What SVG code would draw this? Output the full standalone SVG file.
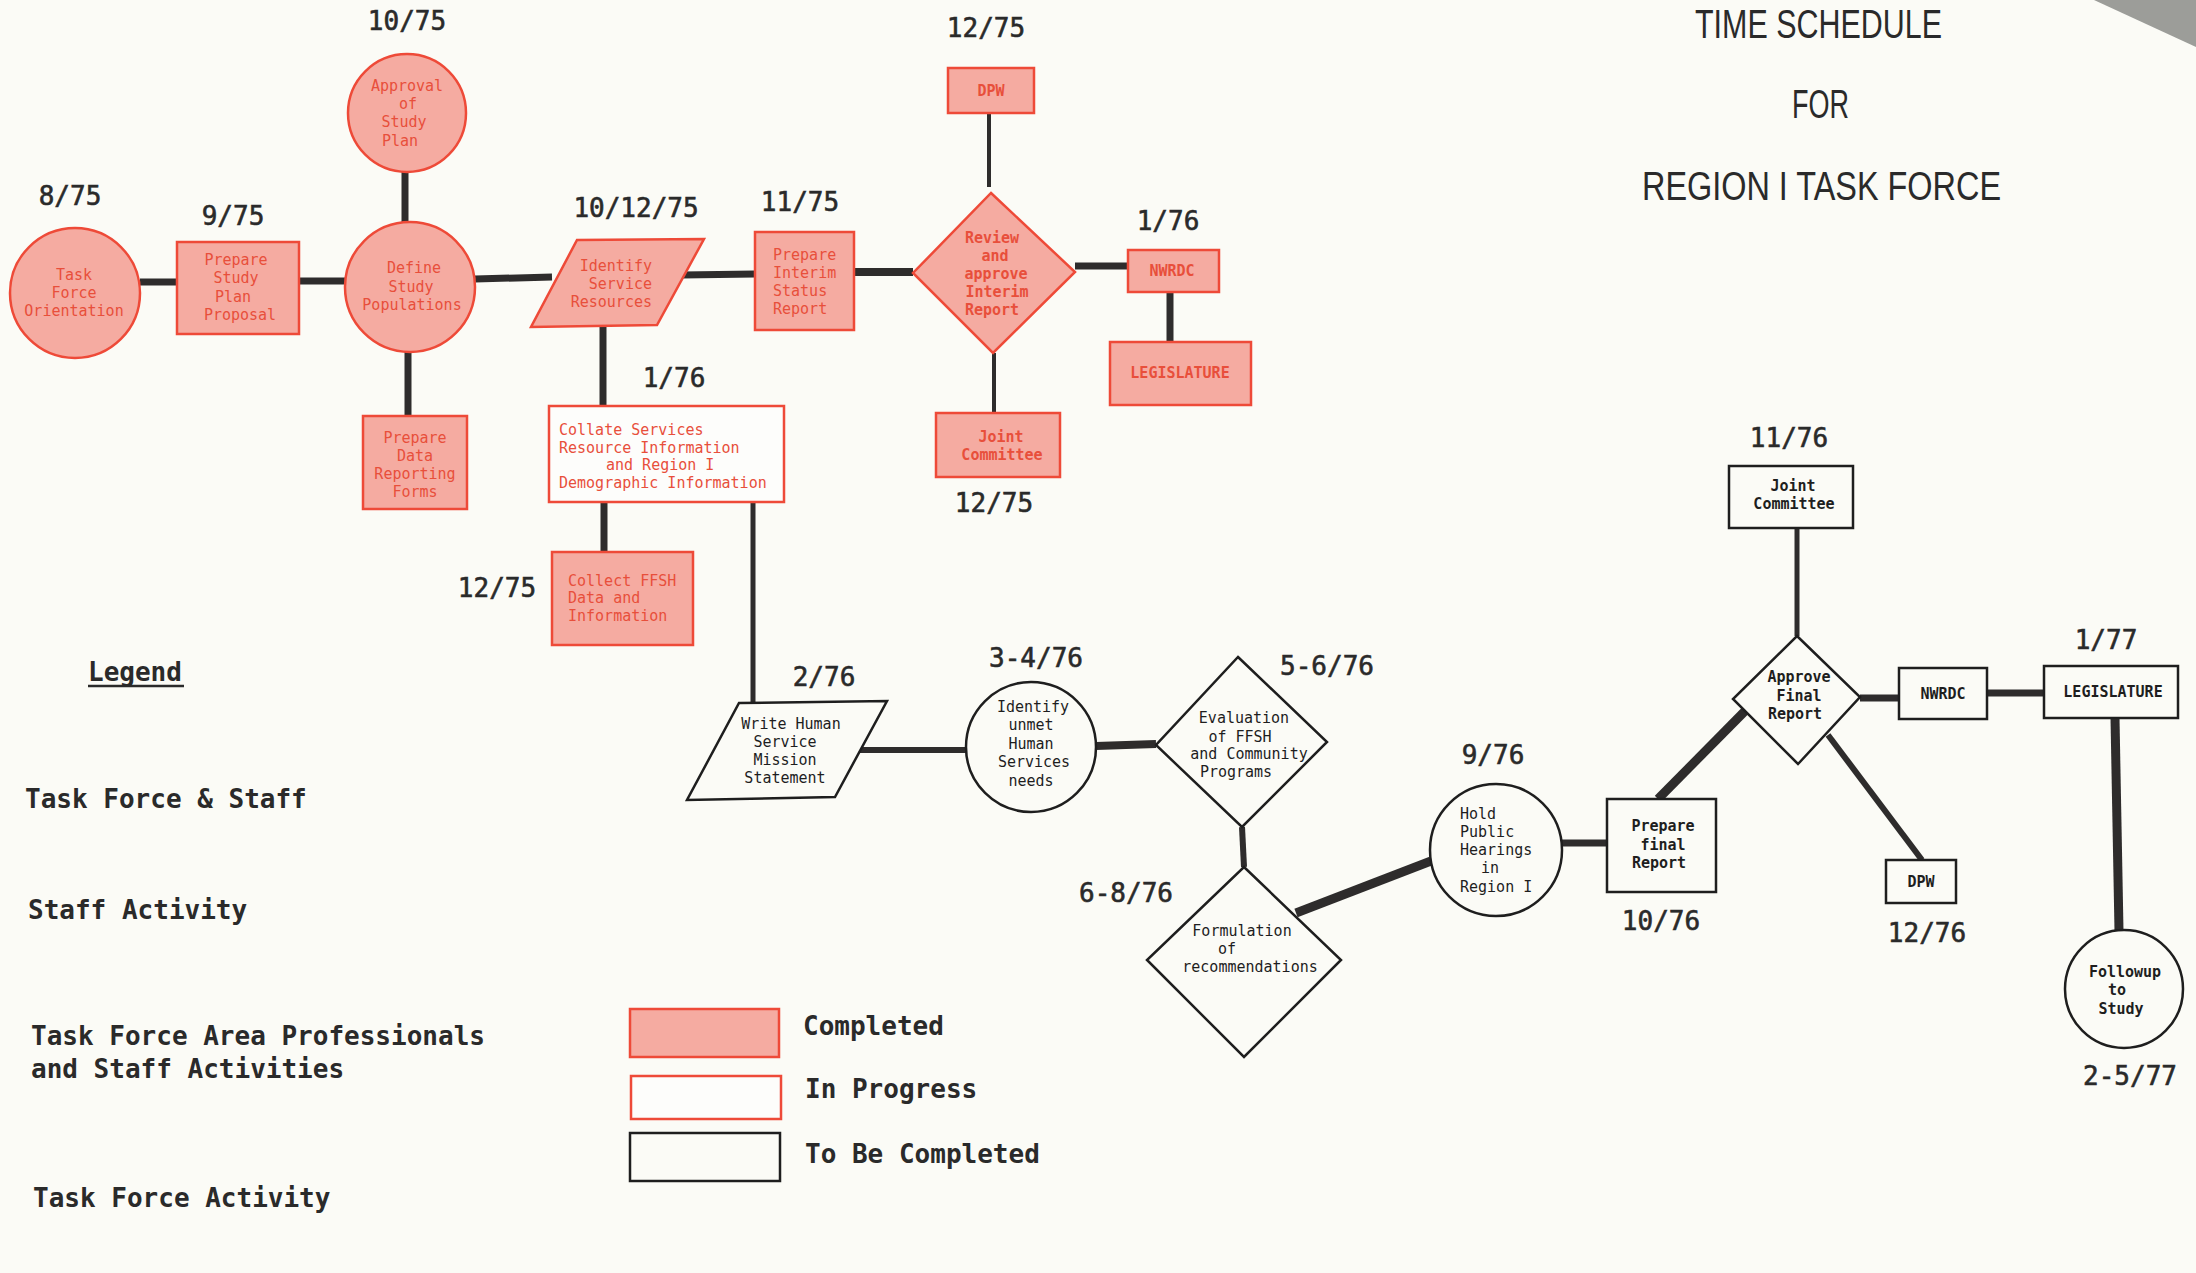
<svg xmlns="http://www.w3.org/2000/svg" width="2196" height="1273" viewBox="0 0 2196 1273">
<style>
.bg{fill:#fbfbf6}
.done{fill:#f5aba1;stroke:#ee4a38;stroke-width:2.5}
.prog{fill:#fdfdfb;stroke:#ee4a38;stroke-width:2.5}
.todo{fill:#fbfbf6;stroke:#1e1e1e;stroke-width:2.5}
.rt{font-family:"DejaVu Sans Mono","Liberation Mono",monospace;font-size:15px;fill:#e84f3b}
.bt{font-family:"DejaVu Sans Mono","Liberation Mono",monospace;font-size:15px;fill:#1e1e1e}
.b{font-weight:bold}
.date{font-family:"DejaVu Sans Mono","Liberation Mono",monospace;font-size:26px;fill:#2a2a2a;stroke:#2a2a2a;stroke-width:0.6;text-anchor:middle}
.leg{font-family:"DejaVu Sans Mono","Liberation Mono",monospace;font-size:26px;font-weight:bold;fill:#2a2a2a}
.title{font-family:"Liberation Sans",Arial,sans-serif;font-size:40px;fill:#2a2a2a}
.m{text-anchor:middle}
.e{text-anchor:end}
#connectors line{stroke:#2e2c2c;stroke-linecap:butt}
</style>
<rect class="bg" x="0" y="0" width="2196" height="1273"/>
<polygon points="2094,0 2196,0 2196,47" fill="#9c9d99"/>

<g id="title">
<text class="title" x="1695" y="38" textLength="247" lengthAdjust="spacingAndGlyphs">TIME SCHEDULE</text>
<text class="title" x="1792" y="118" textLength="57" lengthAdjust="spacingAndGlyphs">FOR</text>
<text class="title" x="1642" y="200" textLength="359" lengthAdjust="spacingAndGlyphs">REGION I TASK FORCE</text>
</g>

<g id="connectors">
<line x1="140" y1="282" x2="177" y2="282" stroke-width="7"/>
<line x1="299" y1="281" x2="346" y2="281" stroke-width="7"/>
<line x1="405" y1="172" x2="405" y2="222" stroke-width="7"/>
<line x1="408" y1="352" x2="408" y2="416" stroke-width="7"/>
<line x1="475" y1="279" x2="552" y2="277" stroke-width="7"/>
<line x1="682" y1="275" x2="755" y2="274" stroke-width="7"/>
<line x1="603" y1="325" x2="603" y2="406" stroke-width="7"/>
<line x1="854" y1="272" x2="913" y2="272" stroke-width="8"/>
<line x1="989" y1="113" x2="989" y2="187" stroke-width="4"/>
<line x1="1075" y1="266" x2="1128" y2="266" stroke-width="7"/>
<line x1="1170" y1="292" x2="1170" y2="342" stroke-width="7"/>
<line x1="994" y1="353" x2="994" y2="413" stroke-width="4"/>
<line x1="604" y1="502" x2="604" y2="552" stroke-width="7"/>
<line x1="753" y1="496" x2="753" y2="703" stroke-width="5"/>
<line x1="860" y1="750" x2="966" y2="750" stroke-width="6"/>
<line x1="1096" y1="746" x2="1156" y2="744" stroke-width="8"/>
<line x1="1242" y1="827" x2="1244" y2="867" stroke-width="6"/>
<line x1="1296" y1="913" x2="1431" y2="861" stroke-width="9"/>
<line x1="1562" y1="843" x2="1607" y2="843" stroke-width="7"/>
<line x1="1658" y1="799" x2="1745" y2="711" stroke-width="9"/>
<line x1="1797" y1="528" x2="1797" y2="636" stroke-width="5"/>
<line x1="1860" y1="698" x2="1899" y2="698" stroke-width="7"/>
<line x1="1987" y1="693" x2="2044" y2="693" stroke-width="7"/>
<line x1="2115" y1="718" x2="2119" y2="931" stroke-width="9"/>
<line x1="1828" y1="735" x2="1922" y2="860" stroke-width="6"/>
</g>

<g id="n-task-force-orientation">
<circle class="done" cx="75" cy="293" r="65"/>
<text class="rt m"><tspan x="74" y="280">Task</tspan><tspan x="74" y="298">Force</tspan><tspan x="74" y="316">Orientation</tspan></text>
</g>
<g id="n-prepare-study-plan">
<rect class="done" x="177" y="242" width="122" height="92"/>
<text class="rt m"><tspan x="236" y="265">Prepare</tspan><tspan x="236" y="283">Study</tspan><tspan x="233" y="302">Plan</tspan><tspan x="240" y="320">Proposal</tspan></text>
</g>
<g id="n-approval-study-plan">
<circle class="done" cx="407" cy="113" r="59"/>
<text class="rt m"><tspan x="407" y="91">Approval</tspan><tspan x="408" y="109">of</tspan><tspan x="404" y="127">Study</tspan><tspan x="400" y="146">Plan</tspan></text>
</g>
<g id="n-define-study-populations">
<circle class="done" cx="410" cy="287" r="65"/>
<text class="rt m"><tspan x="414" y="273">Define</tspan><tspan x="411" y="292">Study</tspan><tspan x="412" y="310">Populations</tspan></text>
</g>
<g id="n-prepare-data-forms">
<rect class="done" x="363" y="416" width="104" height="93"/>
<text class="rt m"><tspan x="415" y="443">Prepare</tspan><tspan x="415" y="461">Data</tspan><tspan x="415" y="479">Reporting</tspan><tspan x="415" y="497">Forms</tspan></text>
</g>
<g id="n-identify-service-resources">
<polygon class="done" points="577,240 704,239 657,325 531,327"/>
<text class="rt e"><tspan x="652" y="271">Identify</tspan><tspan x="652" y="289">Service</tspan><tspan x="652" y="307">Resources</tspan></text>
</g>
<g id="n-prepare-interim">
<rect class="done" x="755" y="232" width="99" height="98"/>
<text class="rt"><tspan x="773" y="260">Prepare</tspan><tspan x="773" y="278">Interim</tspan><tspan x="773" y="296">Status</tspan><tspan x="773" y="314">Report</tspan></text>
</g>
<g id="n-dpw-1">
<rect class="done" x="948" y="68" width="86" height="45"/>
<text class="rt m b" x="991" y="96">DPW</text>
</g>
<g id="n-review-interim">
<polygon class="done" points="991,193 1075,272 993,353 913,273"/>
<text class="rt m b"><tspan x="992" y="243">Review</tspan><tspan x="995" y="261">and</tspan><tspan x="996" y="279">approve</tspan><tspan x="997" y="297">Interim</tspan><tspan x="992" y="315">Report</tspan></text>
</g>
<g id="n-nwrdc-1">
<rect class="done" x="1128" y="250" width="91" height="42"/>
<text class="rt m b" x="1172" y="276">NWRDC</text>
</g>
<g id="n-legislature-1">
<rect class="done" x="1110" y="342" width="141" height="63"/>
<text class="rt m b" x="1180" y="378">LEGISLATURE</text>
</g>
<g id="n-joint-committee-1">
<rect class="done" x="936" y="413" width="124" height="64"/>
<text class="rt m b"><tspan x="1001" y="442">Joint</tspan><tspan x="1002" y="460">Committee</tspan></text>
</g>
<g id="n-collate">
<rect class="prog" x="549" y="406" width="235" height="96"/>
<text class="rt"><tspan x="559" y="435">Collate Services</tspan><tspan x="559" y="453">Resource Information</tspan><tspan x="606" y="470">and Region I</tspan><tspan x="559" y="488">Demographic Information</tspan></text>
</g>
<g id="n-collect-ffsh">
<rect class="done" x="552" y="552" width="141" height="93"/>
<text class="rt"><tspan x="568" y="586">Collect FFSH</tspan><tspan x="568" y="603">Data and</tspan><tspan x="568" y="621">Information</tspan></text>
</g>

<g id="n-write-mission">
<polygon class="todo" points="739,703 887,701 835,797 687,800"/>
<text class="bt m"><tspan x="791" y="729">Write Human</tspan><tspan x="785" y="747">Service</tspan><tspan x="785" y="765">Mission</tspan><tspan x="785" y="783">Statement</tspan></text>
</g>
<g id="n-identify-unmet">
<circle class="todo" cx="1031" cy="747" r="65"/>
<text class="bt m"><tspan x="1033" y="712">Identify</tspan><tspan x="1031" y="730">unmet</tspan><tspan x="1031" y="749">Human</tspan><tspan x="1034" y="767">Services</tspan><tspan x="1031" y="786">needs</tspan></text>
</g>
<g id="n-evaluation">
<polygon class="todo" points="1238,657 1327,742 1242,827 1156,745"/>
<text class="bt m"><tspan x="1244" y="723">Evaluation</tspan><tspan x="1240" y="742">of FFSH</tspan><tspan x="1249" y="759">and Community</tspan><tspan x="1236" y="777">Programs</tspan></text>
</g>
<g id="n-formulation">
<polygon class="todo" points="1244,867 1341,960 1244,1057 1147,960"/>
<text class="bt m"><tspan x="1242" y="936">Formulation</tspan><tspan x="1227" y="954">of</tspan><tspan x="1250" y="972">recommendations</tspan></text>
</g>
<g id="n-hold-hearings">
<circle class="todo" cx="1496" cy="850" r="66"/>
<text class="bt"><tspan x="1460" y="819">Hold</tspan><tspan x="1460" y="837">Public</tspan><tspan x="1460" y="855">Hearings</tspan><tspan x="1481" y="873">in</tspan><tspan x="1460" y="892">Region I</tspan></text>
</g>
<g id="n-prepare-final">
<rect class="todo" x="1607" y="799" width="109" height="93"/>
<text class="bt m b"><tspan x="1663" y="831">Prepare</tspan><tspan x="1663" y="850">final</tspan><tspan x="1659" y="868">Report</tspan></text>
</g>
<g id="n-joint-committee-2">
<rect class="todo" x="1729" y="466" width="124" height="62"/>
<text class="bt m b"><tspan x="1793" y="491">Joint</tspan><tspan x="1794" y="509">Committee</tspan></text>
</g>
<g id="n-approve-final">
<polygon class="todo" points="1797,636 1860,697 1798,764 1733,699"/>
<text class="bt m b"><tspan x="1799" y="682">Approve</tspan><tspan x="1799" y="701">Final</tspan><tspan x="1795" y="719">Report</tspan></text>
</g>
<g id="n-nwrdc-2">
<rect class="todo" x="1899" y="668" width="88" height="51"/>
<text class="bt m b" x="1943" y="699">NWRDC</text>
</g>
<g id="n-legislature-2">
<rect class="todo" x="2044" y="666" width="134" height="52"/>
<text class="bt m b" x="2113" y="697">LEGISLATURE</text>
</g>
<g id="n-dpw-2">
<rect class="todo" x="1886" y="860" width="70" height="43"/>
<text class="bt m b" x="1921" y="887">DPW</text>
</g>
<g id="n-followup">
<circle class="todo" cx="2124" cy="989" r="59"/>
<text class="bt m b"><tspan x="2125" y="977">Followup</tspan><tspan x="2117" y="995">to</tspan><tspan x="2121" y="1014">Study</tspan></text>
</g>

<g id="dates">
<text class="date" x="70" y="205">8/75</text>
<text class="date" x="233" y="225">9/75</text>
<text class="date" x="407" y="30">10/75</text>
<text class="date" x="636" y="217">10/12/75</text>
<text class="date" x="800" y="211">11/75</text>
<text class="date" x="986" y="37">12/75</text>
<text class="date" x="1168" y="230">1/76</text>
<text class="date" x="674" y="387">1/76</text>
<text class="date" x="497" y="597">12/75</text>
<text class="date" x="994" y="512">12/75</text>
<text class="date" x="824" y="686">2/76</text>
<text class="date" x="1036" y="667">3-4/76</text>
<text class="date" x="1327" y="675">5-6/76</text>
<text class="date" x="1126" y="902">6-8/76</text>
<text class="date" x="1493" y="764">9/76</text>
<text class="date" x="1661" y="930">10/76</text>
<text class="date" x="1789" y="447">11/76</text>
<text class="date" x="1927" y="942">12/76</text>
<text class="date" x="2106" y="649">1/77</text>
<text class="date" x="2130" y="1085">2-5/77</text>
</g>

<g id="legend">
<text class="leg" x="88" y="681">Legend</text>
<line x1="88" y1="686" x2="184" y2="686" stroke="#2a2a2a" stroke-width="2.5"/>
<text class="leg" x="25" y="808">Task Force &amp; Staff</text>
<text class="leg" x="28" y="919">Staff Activity</text>
<text class="leg" x="31" y="1045">Task Force Area Professionals</text>
<text class="leg" x="31" y="1078">and Staff Activities</text>
<text class="leg" x="33" y="1207">Task Force Activity</text>
<rect class="done" x="630" y="1009" width="149" height="48"/>
<rect class="prog" x="631" y="1076" width="150" height="43"/>
<rect class="todo" x="630" y="1133" width="150" height="48" stroke-width="3"/>
<text class="leg" x="803" y="1035">Completed</text>
<text class="leg" x="805" y="1098">In Progress</text>
<text class="leg" x="805" y="1163">To Be Completed</text>
</g>
</svg>
